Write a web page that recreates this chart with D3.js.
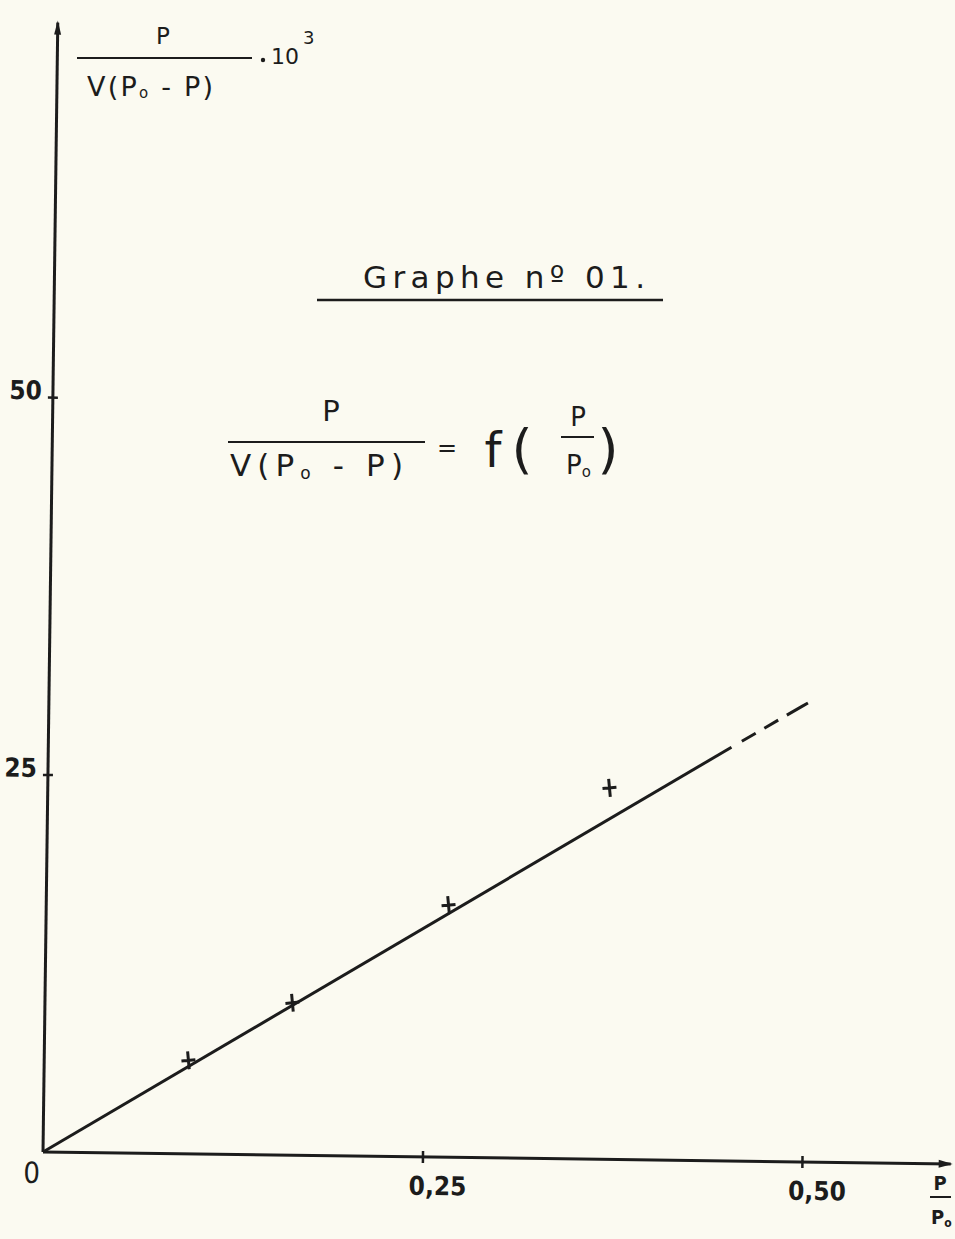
<!DOCTYPE html>
<html>
<head>
<meta charset="utf-8">
<script src="https://cdn.jsdelivr.net/npm/d3@7"></script>
<style>
  html, body { margin: 0; padding: 0; background: #fbfaf1; }
  svg { display: block; }
  text { fill: #1c1c1c; }
</style>
</head>
<body>
<svg id="chart" width="955" height="1239"></svg>
<script>
// Measured points: relative pressure P/P0 and P/(V(P0-P)) x 10^3
const ratioX = [0.095, 0.163, 0.265, 0.370];
const valueY = [6.2, 10.1, 16.7, 24.6];

// Straight fit through the origin: solid part, then dashed extension
const fitX = [0, 0.45, 0.50];
const fitY = [0, 27.4, 30.4];

// Axis ticks
const xTicks = [0.25, 0.50];
const yTicks = [25, 50];

const ink = "#1c1c1c";
const svg = d3.select("#chart");

svg.append("rect").attr("width", 955).attr("height", 1239).attr("fill", "#fbfaf1");

// Plot frame, drawn slightly tilted like the sheet
const g = svg.append("g").attr("transform", "translate(43,1152) rotate(0.75)");

const x = d3.scaleLinear().domain([0, 0.6]).range([0, 910.8]);
const y = d3.scaleLinear().domain([0, 75]).range([0, -1132.5]);

const fr = d3.formatLocale({decimal: ",", thousands: " ", grouping: [3], currency: ["", " €"]});
const fmt = fr.format(".2f");
const digits = "'DejaVu Sans Condensed', 'DejaVu Sans', sans-serif";

// X axis line with arrow
g.append("line")
  .attr("x1", x(0)).attr("y1", 0).attr("x2", x(0.598)).attr("y2", 0)
  .attr("stroke", ink).attr("stroke-width", 3);
g.append("path")
  .attr("d", `M${x(0.598) + 2},0 L${x(0.598) - 12},-4 L${x(0.598) - 12},4 Z`)
  .attr("fill", ink);

// Y axis line with arrow
g.append("line")
  .attr("x1", 0).attr("y1", y(0)).attr("x2", 0).attr("y2", y(74.8))
  .attr("stroke", ink).attr("stroke-width", 3);
g.append("path")
  .attr("d", `M0,${y(74.8) - 2} L-3.5,${y(74.8) + 12} L3.5,${y(74.8) + 12} Z`)
  .attr("fill", ink);

// X ticks and labels
const xAxis = g.append("g")
  .call(d3.axisBottom(x).tickValues(xTicks).tickFormat(fmt).tickSize(0));
xAxis.select(".domain").remove();
xAxis.selectAll(".tick line")
  .attr("y1", -6).attr("y2", 6).attr("stroke", ink).attr("stroke-width", 2.5);
xAxis.selectAll(".tick text")
  .attr("x", 15).attr("y", 38).attr("dy", null)
  .attr("font-family", digits)
  .attr("font-weight", "bold").attr("font-size", 26)
  .attr("fill", ink);

// Y ticks and labels
const yAxis = g.append("g")
  .call(d3.axisLeft(y).tickValues(yTicks).tickFormat(d3.format("d")).tickSize(0));
yAxis.select(".domain").remove();
yAxis.selectAll(".tick line")
  .attr("x1", -5).attr("x2", 5).attr("stroke", ink).attr("stroke-width", 2.5);
yAxis.selectAll(".tick text")
  .attr("x", -11).attr("y", 2).attr("dy", null)
  .attr("font-family", digits)
  .attr("font-weight", "bold").attr("font-size", 26)
  .attr("fill", ink);

// Origin label
g.append("text")
  .attr("x", x(0) - 11).attr("y", 31)
  .attr("text-anchor", "middle")
  .attr("font-family", digits)
  .attr("font-size", 29)
  .text("0");

// Fit line: solid segment then dashed extension
const line = d3.line().x(d => x(d[0])).y(d => y(d[1]));
g.append("path")
  .attr("d", line([[fitX[0], fitY[0]], [fitX[1], fitY[1]]]))
  .attr("fill", "none").attr("stroke", ink).attr("stroke-width", 3);
g.append("path")
  .attr("d", line([[fitX[1], fitY[1]], [fitX[2], fitY[2]]]))
  .attr("fill", "none").attr("stroke", ink).attr("stroke-width", 3)
  .attr("stroke-dasharray", "0,12,16,10,16,10,18");

// Measured points as crosses
g.selectAll(".pt")
  .data(ratioX.map((v, i) => [v, valueY[i]]))
  .join("path")
  .attr("class", "pt")
  .attr("transform", d => `translate(${x(d[0])},${y(d[1])}) rotate(-6)`)
  .attr("d", "M-7,0H7M0,-9V9")
  .attr("stroke", ink).attr("stroke-width", 3).attr("fill", "none");

// ---- Text annotations ----
const hand = "'DejaVu Sans', sans-serif";

// Y axis quantity: P / (V(P0 - P)) . 10^3
svg.append("text").attr("x", 163).attr("y", 44).attr("text-anchor", "middle")
  .attr("font-family", hand).attr("font-size", 23).text("P");
svg.append("line").attr("x1", 77).attr("y1", 58).attr("x2", 252).attr("y2", 58)
  .attr("stroke", ink).attr("stroke-width", 2);
const yl = svg.append("text").attr("x", 87).attr("y", 96)
  .attr("font-family", hand).attr("font-size", 27)
  .attr("textLength", 126).attr("lengthAdjust", "spacing");
yl.append("tspan").text("V(P");
yl.append("tspan").attr("font-size", 15).attr("dy", 2).text("o");
yl.append("tspan").attr("dy", -2).text(" - P)");
svg.append("circle").attr("cx", 263).attr("cy", 60).attr("r", 2.2).attr("fill", ink);
svg.append("text").attr("x", 271).attr("y", 64)
  .attr("font-family", hand).attr("font-size", 22).text("10");
svg.append("text").attr("x", 303).attr("y", 44)
  .attr("font-family", hand).attr("font-size", 18).text("3");

// Title
const title = svg.append("text").attr("x", 363).attr("y", 288)
  .attr("font-family", hand).attr("font-size", 31)
  .attr("textLength", 282).attr("lengthAdjust", "spacing");
title.append("tspan").text("Graphe nº 01.");
svg.append("line").attr("x1", 317).attr("y1", 300).attr("x2", 663).attr("y2", 300)
  .attr("stroke", ink).attr("stroke-width", 2.5);

// Formula: P / (V(P0 - P)) = f( P / P0 )
svg.append("text").attr("x", 331).attr("y", 421).attr("text-anchor", "middle")
  .attr("font-family", hand).attr("font-size", 29).text("P");
svg.append("line").attr("x1", 228).attr("y1", 442).attr("x2", 425).attr("y2", 442)
  .attr("stroke", ink).attr("stroke-width", 2);
const fl = svg.append("text").attr("x", 230).attr("y", 476)
  .attr("font-family", hand).attr("font-size", 31)
  .attr("textLength", 173).attr("lengthAdjust", "spacing");
fl.append("tspan").text("V(P");
fl.append("tspan").attr("font-size", 17).attr("dy", 3).text("o");
fl.append("tspan").attr("dy", -3).text(" - P)");
svg.append("text").attr("x", 447).attr("y", 456).attr("text-anchor", "middle")
  .attr("font-family", hand).attr("font-size", 24).text("=");
svg.append("text").attr("x", 493).attr("y", 467).attr("text-anchor", "middle")
  .attr("font-family", hand).attr("font-size", 48).text("f");
svg.append("text").attr("x", 522).attr("y", 468).attr("text-anchor", "middle")
  .attr("font-family", hand).attr("font-size", 54).text("(");
svg.append("text").attr("x", 578).attr("y", 426).attr("text-anchor", "middle")
  .attr("font-family", hand).attr("font-size", 26).text("P");
svg.append("line").attr("x1", 561).attr("y1", 437).attr("x2", 594).attr("y2", 437)
  .attr("stroke", ink).attr("stroke-width", 2);
const fp = svg.append("text").attr("x", 566).attr("y", 474)
  .attr("font-family", hand).attr("font-size", 26);
fp.append("tspan").text("P");
fp.append("tspan").attr("font-size", 15).attr("dy", 3).text("o");
svg.append("text").attr("x", 608).attr("y", 468).attr("text-anchor", "middle")
  .attr("font-family", hand).attr("font-size", 54).text(")");

// X axis quantity: P / P0
svg.append("text").attr("x", 940).attr("y", 1190).attr("text-anchor", "middle")
  .attr("font-family", digits)
  .attr("font-weight", "bold").attr("font-size", 20).text("P");
svg.append("line").attr("x1", 930).attr("y1", 1197).attr("x2", 951).attr("y2", 1197)
  .attr("stroke", ink).attr("stroke-width", 2);
const xp = svg.append("text").attr("x", 931).attr("y", 1224)
  .attr("font-family", digits)
  .attr("font-weight", "bold").attr("font-size", 20);
xp.append("tspan").text("P");
xp.append("tspan").attr("font-size", 12).attr("dy", 3).text("o");
</script>
</body>
</html>
